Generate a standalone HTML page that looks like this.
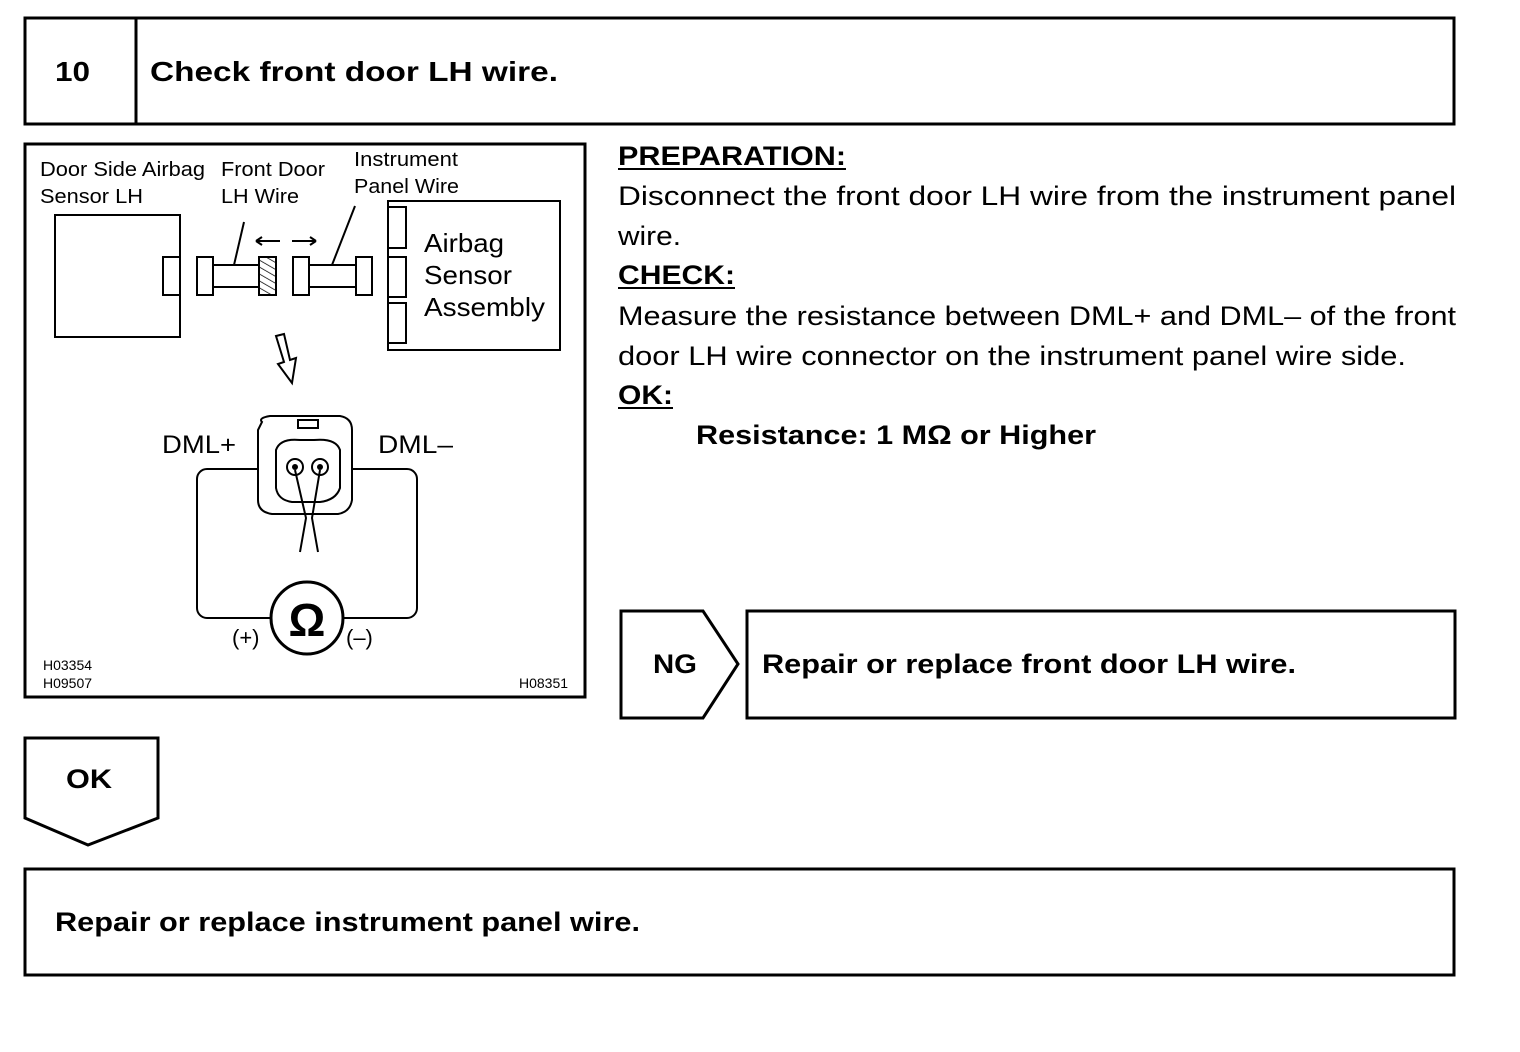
<!DOCTYPE html>
<html><head><style>
html,body{margin:0;padding:0;background:#fff;}
svg{display:block;}
text{font-family:"Liberation Sans",Arial,sans-serif;fill:#000;}
</style></head><body>
<svg width="1520" height="1052" viewBox="0 0 1520 1052" xmlns="http://www.w3.org/2000/svg">
<g fill="none" stroke="#000" stroke-width="3">
<rect x="25" y="18" width="1429" height="106"/>
<line x1="136" y1="18" x2="136" y2="124"/>
<rect x="25" y="144" width="560" height="553"/>
<polygon points="621,611 703,611 738,664 703,718 621,718"/>
<rect x="747" y="611" width="708" height="107"/>
<polygon points="25,738 158,738 158,818 88,845 25,818"/>
<rect x="25" y="869" width="1429" height="106"/>
</g>
<text x="55" y="81" font-size="28" font-weight="bold" textLength="35" lengthAdjust="spacingAndGlyphs">10</text>
<text x="150" y="81" font-size="28" font-weight="bold" textLength="408" lengthAdjust="spacingAndGlyphs">Check front door LH wire.</text>
<text x="653" y="673" font-size="27" font-weight="bold" textLength="44" lengthAdjust="spacingAndGlyphs">NG</text>
<text x="762" y="673" font-size="27" font-weight="bold" textLength="534" lengthAdjust="spacingAndGlyphs">Repair or replace front door LH wire.</text>
<text x="66" y="788" font-size="27" font-weight="bold" textLength="46" lengthAdjust="spacingAndGlyphs">OK</text>
<text x="55" y="931" font-size="27" font-weight="bold" textLength="585" lengthAdjust="spacingAndGlyphs">Repair or replace instrument panel wire.</text>

<g font-size="27">
<text x="618" y="165" font-weight="bold" textLength="228" lengthAdjust="spacingAndGlyphs">PREPARATION:</text>
<text x="618" y="205" textLength="838" lengthAdjust="spacingAndGlyphs">Disconnect the front door LH wire from the instrument panel</text>
<text x="618" y="245" textLength="63" lengthAdjust="spacingAndGlyphs">wire.</text>
<text x="618" y="284" font-weight="bold" textLength="117" lengthAdjust="spacingAndGlyphs">CHECK:</text>
<text x="618" y="325" textLength="838" lengthAdjust="spacingAndGlyphs">Measure the resistance between DML+ and DML– of the front</text>
<text x="618" y="365" textLength="788" lengthAdjust="spacingAndGlyphs">door LH wire connector on the instrument panel wire side.</text>
<text x="618" y="404" font-weight="bold" textLength="55" lengthAdjust="spacingAndGlyphs">OK:</text>
<text x="696" y="444" font-weight="bold" textLength="400" lengthAdjust="spacingAndGlyphs">Resistance: 1 MΩ or Higher</text>
</g>
<line x1="618" y1="169" x2="846" y2="169" stroke="#000" stroke-width="2"/>
<line x1="618" y1="288" x2="735" y2="288" stroke="#000" stroke-width="2"/>
<line x1="618" y1="408" x2="673" y2="408" stroke="#000" stroke-width="2"/>

<!-- diagram -->
<defs><pattern id="h" width="6" height="6" patternUnits="userSpaceOnUse" patternTransform="rotate(-60)"><line x1="0" y1="0" x2="0" y2="6" stroke="#000" stroke-width="1.5"/></pattern></defs>
<g fill="#fff" stroke="#000" stroke-width="2">
<rect x="55" y="215" width="125" height="122"/>
<rect x="163" y="257" width="17" height="38"/>
<rect x="197" y="257" width="16" height="38"/>
<rect x="213" y="265" width="46" height="22"/>
<rect x="259" y="257" width="17" height="38" fill="url(#h)"/>
<rect x="293" y="257" width="16" height="38"/>
<rect x="309" y="265" width="47" height="22"/>
<rect x="356" y="257" width="16" height="38"/>
<rect x="388" y="201" width="172" height="149"/>
<rect x="388" y="207" width="18" height="41"/>
<rect x="388" y="257" width="18" height="40"/>
<rect x="388" y="303" width="18" height="40"/>
</g>
<g font-size="20">
<text x="40" y="176" textLength="165" lengthAdjust="spacingAndGlyphs">Door Side Airbag</text>
<text x="40" y="203" textLength="103" lengthAdjust="spacingAndGlyphs">Sensor LH</text>
<text x="221" y="176" textLength="104" lengthAdjust="spacingAndGlyphs">Front Door</text>
<text x="221" y="203" textLength="78" lengthAdjust="spacingAndGlyphs">LH Wire</text>
<text x="354" y="166" textLength="104" lengthAdjust="spacingAndGlyphs">Instrument</text>
<text x="354" y="193" textLength="105" lengthAdjust="spacingAndGlyphs">Panel Wire</text>
</g>
<g font-size="26">
<text x="424" y="252" textLength="80" lengthAdjust="spacingAndGlyphs">Airbag</text>
<text x="424" y="284" textLength="88" lengthAdjust="spacingAndGlyphs">Sensor</text>
<text x="424" y="316" textLength="121" lengthAdjust="spacingAndGlyphs">Assembly</text>
</g>
<g stroke="#000" stroke-width="2" fill="none">
<line x1="244" y1="222" x2="234" y2="265"/>
<line x1="355" y1="206" x2="332" y2="265"/>
<path d="M256 241 H280 M256 241 l6 -4 M256 241 l6 4"/>
<path d="M292 241 H316 M316 241 l-6 -4 M316 241 l-6 4"/>
<polygon points="276,336 284,334 290,360 296,358 292,383 278,364 284,362"/>
<rect x="197" y="469" width="220" height="149" rx="10"/>
<path d="M262 422 Q258 418 270 416 H340 Q352 418 352 430 V500 Q350 512 338 514 H272 Q258 512 258 500 V430 Z" fill="#fff"/>
<rect x="298" y="420" width="20" height="8"/>
<path d="M276 450 Q280 438 300 440 H314 Q336 438 340 450 V488 Q336 500 320 502 H292 Q278 500 276 488 Z"/>
<circle cx="295" cy="467" r="8"/><circle cx="320" cy="467" r="8"/>
<path d="M295 470 L306 518 L300 552 M320 470 L312 518 L318 552"/>
</g>
<circle cx="295" cy="467" r="3" fill="#000"/><circle cx="320" cy="467" r="3" fill="#000"/>
<circle cx="307" cy="618" r="36" fill="#fff" stroke="#000" stroke-width="3"/>
<text x="307" y="636" font-size="46" font-weight="bold" text-anchor="middle">Ω</text>
<text x="232" y="645" font-size="22">(+)</text>
<text x="346" y="645" font-size="22">(–)</text>
<text x="162" y="453" font-size="25" textLength="74" lengthAdjust="spacingAndGlyphs">DML+</text>
<text x="378" y="453" font-size="25" textLength="75" lengthAdjust="spacingAndGlyphs">DML–</text>
<g font-size="14">
<text x="43" y="670">H03354</text>
<text x="43" y="688">H09507</text>
<text x="519" y="688">H08351</text>
</g>
</svg>
</body></html>
